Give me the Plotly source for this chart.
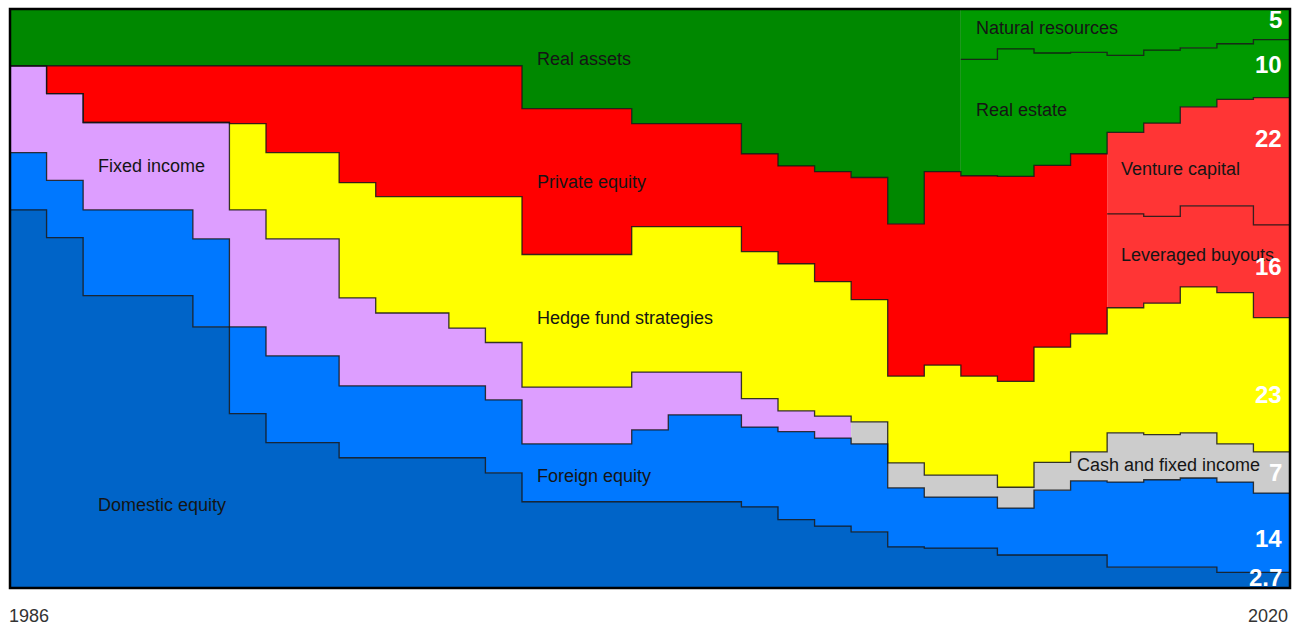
import numpy as np
import plotly.graph_objects as go

years = list(range(1986, 2021))

domestic_equity = [65.3, 60.5, 50.5, 50.5, 50.5, 45.1, 30.1, 25.1, 25.1, 22.5, 22.5, 22.5, 22.5, 19.9,
                   14.9, 14.9, 14.9, 14.9, 14.9, 14.9, 14.0, 11.8, 10.7, 9.7, 7.1, 6.9, 6.9, 5.7, 5.7, 5.7,
                   3.6, 3.6, 3.6, 2.7, 2.7]
foreign_equity = [9.9, 9.9, 14.8, 14.8, 14.8, 15.2, 15.0, 15.0, 15.0, 12.4, 12.4, 12.4, 12.4, 12.6,
                  10.0, 10.0, 10.0, 12.4, 15.0, 15.0, 13.8, 15.2, 15.2, 15.2, 10.2, 8.8, 8.8, 8.1, 11.2, 12.8,
                  14.7, 15.1, 15.4, 15.6, 13.7]
fixed_income = [15.0, 15.0, 15.1, 15.1, 15.1, 20.1, 20.2, 20.2, 20.2, 15.2, 12.6, 12.6, 10.0, 9.9,
                9.8, 9.8, 9.8, 10.0, 7.4, 7.4, 4.9, 3.6, 3.8, 0, 0, 0, 0, 0, 0, 0,
                0, 0, 0, 0, 0]
cash_and_fixed_income = [0, 0, 0, 0, 0, 0, 0, 0, 0, 0, 0, 0, 0, 0,
                         0, 0, 0, 0, 0, 0, 0, 0, 0, 3.8, 4.3, 3.8, 3.8, 3.6, 4.8, 5.0,
                         8.5, 7.8, 7.8, 6.6, 7.1]
hedge_funds = [0, 0, 0, 0, 0, 0, 14.9, 14.9, 14.9, 19.9, 20.1, 20.1, 22.7, 25.2,
               22.9, 22.9, 22.9, 25.1, 25.1, 25.1, 25.4, 25.4, 23.2, 21.1, 15.0, 19.0, 17.1, 18.3, 19.9, 20.4,
               21.6, 22.7, 25.2, 26.1, 23.2]
private_equity = [0, 4.8, 9.8, 9.8, 9.8, 9.8, 10.0, 15.0, 15.0, 20.2, 22.6, 22.6, 22.6, 22.6,
                  25.2, 25.2, 25.2, 17.8, 17.8, 17.8, 16.9, 16.9, 19.0, 21.1, 26.3, 33.4, 34.6, 35.4, 31.4, 31.1,
                  0, 0, 0, 0, 0]
leveraged_buyouts = [0] * 30 + [16.2, 15.0, 14.0, 15.0, 16.0]
venture_capital = [0] * 30 + [14.1, 16.1, 17.1, 18.4, 22.0]
real_assets = [9.8] * 14 + [17.2, 17.2, 17.2, 19.8, 19.8, 19.8, 25.0, 27.1, 28.1, 29.1, 37.1, 28.1] + [0] * 9
real_estate = [0] * 26 + [20.1, 22.0, 19.4, 17.5, 13.3, 12.6, 10.2, 9.6, 10.0]
natural_resources = [0] * 26 + [8.7, 6.8, 7.5, 7.5, 8.0, 7.2, 6.7, 6.0, 5.3]

series_names = ["Domestic equity", "Foreign equity", "Fixed income", "Cash and fixed income",
                "Hedge fund strategies", "Private equity", "Leveraged buyouts", "Venture capital",
                "Real assets", "Real estate", "Natural resources"]
series_values = [domestic_equity, foreign_equity, fixed_income, cash_and_fixed_income, hedge_funds,
                 private_equity, leveraged_buyouts, venture_capital, real_assets, real_estate,
                 natural_resources]
series_colors = ["#0064C8", "#0078FF", "#DD9EFF", "#CCCCCC", "#FFFF00", "#FF0000", "#FF3535",
                 "#FF3535", "#008800", "#009A00", "#009A00"]

end_labels = ["5", "10", "22", "16", "23", "7", "14", "2.7"]
end_label_y = [98.2, 90.4, 77.6, 55.5, 33.4, 19.9, 8.6, 1.9]
tick_labels = ["1986", "2020"]

# step edges: repeat the last year so the final step reaches the right edge
x = years + [years[-1] + 1]


def ext(arr):
    a = np.asarray(arr, dtype=float)
    return np.append(a, a[-1])


fig = go.Figure()
for name, vals, col in zip(series_names, series_values, series_colors):
    fig.add_trace(go.Scatter(
        x=x, y=ext(vals), name=name, stackgroup="alloc", mode="lines",
        line=dict(width=0, shape="hv", color=col), fillcolor=col,
        hoverinfo="skip", showlegend=False))

D = np.asarray(domestic_equity); F = np.asarray(foreign_equity)
FI = np.asarray(fixed_income); C = np.asarray(cash_and_fixed_income)
H = np.asarray(hedge_funds); PE = np.asarray(private_equity)
LBO = np.asarray(leveraged_buyouts); VC = np.asarray(venture_capital)
RE = np.asarray(real_estate)

b1 = D
b2 = b1 + F
b3 = b2 + FI + C
b4 = b3 + H
b5 = np.where(LBO > 0, b4 + LBO, np.nan)
b6 = b4 + PE + LBO + VC
b7 = np.where(RE > 0, b6 + RE, np.nan)

for b in [b1, b2, b3, b4, b5, b6, b7]:
    fig.add_trace(go.Scatter(
        x=x, y=ext(b), mode="lines", line=dict(width=1.3, shape="hv", color="rgba(20,20,20,0.85)"),
        hoverinfo="skip", showlegend=False, connectgaps=False))

FONT = "Liberation Sans, Arial, sans-serif"
label_font = dict(family=FONT, size=18, color="#151515")
labels = [
    ("Real assets", 2000.36, 91.4),
    ("Fixed income", 1988.35, 72.9),
    ("Private equity", 2000.36, 70.2),
    ("Hedge fund strategies", 2000.36, 46.7),
    ("Foreign equity", 2000.36, 19.4),
    ("Domestic equity", 1988.35, 14.3),
    ("Natural resources", 2012.36, 96.8),
    ("Real estate", 2012.36, 82.5),
    ("Venture capital", 2016.33, 72.3),
    ("Leveraged buyouts", 2016.33, 57.6),
    ("Cash and fixed income", 2015.12, 21.3),
]
annotations = []
for t, ax_, ay_ in labels:
    annotations.append(dict(x=ax_, y=ay_, xref="x", yref="y", text=t, showarrow=False,
                            xanchor="left", yanchor="middle", font=label_font))
for t, ay_ in zip(end_labels, end_label_y):
    annotations.append(dict(x=2020.84, y=ay_, xref="x", yref="y", text="<b>%s</b>" % t, showarrow=False,
                            xanchor="right", yanchor="middle",
                            font=dict(family=FONT, size=24, color="white")))
annotations.append(dict(x=0, y=0, xref="paper", yref="paper", text=tick_labels[0], showarrow=False,
                        xanchor="left", yanchor="top", xshift=-3, yshift=-16,
                        font=dict(family=FONT, size=18, color="#333333")))
annotations.append(dict(x=1, y=0, xref="paper", yref="paper", text=tick_labels[1], showarrow=False,
                        xanchor="right", yanchor="top", yshift=-16,
                        font=dict(family=FONT, size=18, color="#333333")))

fig.update_layout(
    width=1299, height=626,
    margin=dict(l=10, r=9, t=9, b=38),
    paper_bgcolor="white", plot_bgcolor="white",
    xaxis=dict(range=[1986, 2021], showgrid=False, zeroline=False, showticklabels=False, ticks="", fixedrange=True),
    yaxis=dict(range=[0, 100], showgrid=False, zeroline=False, showticklabels=False, ticks="", fixedrange=True),
    annotations=annotations,
    shapes=[dict(type="rect", xref="paper", yref="paper", x0=0, x1=1, y0=0, y1=1,
                 line=dict(color="black", width=2.5), layer="above")],
)

fig.write_html("out.html")
